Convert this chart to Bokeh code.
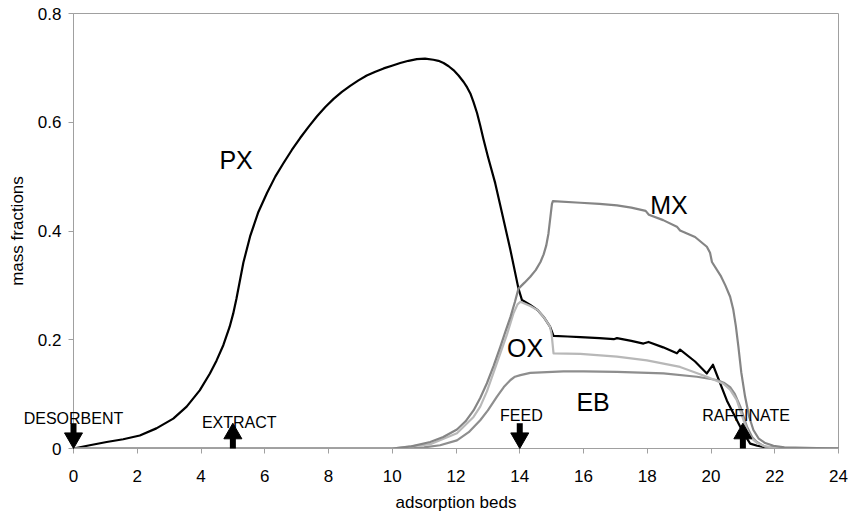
from bokeh.plotting import figure
from bokeh.models import Range1d, FixedTicker, NumeralTickFormatter
from bokeh.core.properties import value
from bokeh.embed import file_html
from bokeh.resources import INLINE

# ---------------- data ----------------
px_x = [0, 0.51, 1.04, 1.56, 2.08, 2.6, 3.13, 3.55, 3.96, 4.28, 4.49, 4.7, 4.9, 5.01, 5.11, 5.33,
        5.54, 5.8, 6.07, 6.33, 6.59, 6.85, 7.11, 7.38, 7.64, 7.9, 8.16, 8.42, 8.68, 8.94, 9.2,
        9.47, 9.73, 9.99, 10.25, 10.51, 10.77, 11.03, 11.29, 11.45, 11.61, 11.77, 11.92, 12.08,
        12.24, 12.35, 12.45, 12.55, 12.66, 12.76, 12.86, 13.0, 13.23, 13.39, 13.7, 13.96, 14.07,
        14.33, 14.55, 14.75, 14.95, 15.06, 15.5, 15.9, 16.5, 16.95, 17.05, 17.5, 17.88, 18.04,
        18.5, 18.93, 19.03, 19.5, 19.87, 20.06, 20.5, 21.02, 21.23, 21.45, 21.65, 22.0, 24.0]
px_y = [0, 0.006, 0.012, 0.017, 0.024, 0.037, 0.055, 0.077, 0.107, 0.138, 0.162, 0.19, 0.224,
        0.248, 0.275, 0.342, 0.39, 0.435, 0.47, 0.5, 0.525, 0.549, 0.571, 0.592, 0.611, 0.628,
        0.643, 0.656, 0.667, 0.677, 0.686, 0.693, 0.699, 0.704, 0.709, 0.713, 0.716, 0.717,
        0.715, 0.713, 0.709, 0.703, 0.696, 0.686, 0.674, 0.664, 0.653, 0.637, 0.617, 0.594,
        0.569, 0.537, 0.488, 0.447, 0.367, 0.294, 0.273, 0.264, 0.255, 0.242, 0.224, 0.207,
        0.206, 0.205, 0.203, 0.201, 0.203, 0.198, 0.193, 0.196, 0.186, 0.175, 0.182, 0.16,
        0.138, 0.154, 0.088, 0.028, 0.009, 0.005, 0.003, 0.001, 0]

mx_x = [0, 10.0, 10.6, 11.19, 11.6, 12.03, 12.3, 12.55, 12.76, 12.97, 13.18, 13.39, 13.55, 13.71,
        13.85, 13.96, 14.15, 14.33, 14.5, 14.65, 14.75, 14.83, 14.9, 14.96, 15.01, 15.04, 15.9,
        16.5, 17.05, 17.5, 17.95, 18.05, 18.5, 18.93, 19.03, 19.5, 19.87, 19.97, 20.03, 20.3,
        20.45, 20.6, 20.7, 20.78, 20.86, 20.95, 21.07, 21.2, 21.33, 21.5, 21.7, 21.96, 22.3, 24.0]
mx_y = [0, 0, 0.004, 0.012, 0.021, 0.035, 0.05, 0.07, 0.093, 0.12, 0.152, 0.187, 0.215, 0.242,
        0.27, 0.294, 0.305, 0.316, 0.328, 0.343, 0.357, 0.373, 0.395, 0.425, 0.45, 0.455, 0.452,
        0.45, 0.447, 0.443, 0.437, 0.43, 0.42, 0.408, 0.401, 0.389, 0.371, 0.36, 0.343, 0.318,
        0.3, 0.279, 0.255, 0.225, 0.187, 0.14, 0.095, 0.058, 0.034, 0.018, 0.01, 0.005, 0.002, 0]

ox_x = [0, 10.0, 11.19, 12.03, 12.55, 12.76, 12.97, 13.18, 13.39, 13.6, 13.8, 13.93, 14.02, 14.33,
        14.55, 14.75, 14.95, 15.0, 15.06, 15.9, 17.05, 17.99, 19.03, 19.87, 20.39, 20.6, 20.81,
        21.02, 21.23, 21.45, 21.65, 22.0, 24.0]
ox_y = [0, 0, 0.008, 0.028, 0.058, 0.077, 0.105, 0.14, 0.175, 0.21, 0.248, 0.265, 0.27, 0.262,
        0.255, 0.242, 0.224, 0.21, 0.175, 0.174, 0.169, 0.162, 0.15, 0.132, 0.119, 0.108, 0.089,
        0.052, 0.021, 0.01, 0.005, 0.001, 0]

eb_x = [0, 10.5, 11.0, 11.5, 12.03, 12.4, 12.76, 13.0, 13.28, 13.5, 13.71, 13.85, 14.02, 14.33,
        15.37, 16.0, 17.05, 18.51, 19.56, 20.18, 20.4, 20.6, 20.75, 20.92, 21.13, 21.3, 21.44,
        21.7, 22.0, 24.0]
eb_y = [0, 0, 0.002, 0.006, 0.015, 0.03, 0.052, 0.07, 0.095, 0.113, 0.126, 0.132, 0.135, 0.139,
        0.142, 0.142, 0.141, 0.138, 0.132, 0.126, 0.121, 0.113, 0.1, 0.077, 0.04, 0.02, 0.012,
        0.003, 0.001, 0]

series_names = ["PX", "MX", "OX", "EB"]

ports = ["DESORBENT", "EXTRACT", "FEED", "RAFFINATE"]
port_beds = [0, 5, 14, 21]
port_dir = ["in", "out", "in", "out"]   # in = arrow pointing down, out = arrow pointing up

x_ticks = list(range(0, 25, 2))
y_ticks = [0, 0.2, 0.4, 0.6, 0.8]

# ---------------- style / layout ----------------
FONT = "Liberation Sans"
AXIS_GRAY = "#a0a0a0"
W, H = 851, 518
BL, BR, BT, BB = 73, 13, 13, 70
X0, X1, Y0, Y1 = 0, 24, 0, 0.8
ypx = (H - BT - BB) / (Y1 - Y0)     # pixels per data unit (y)

p = figure(width=W, height=H, x_range=Range1d(X0, X1), y_range=Range1d(Y0, Y1),
           output_backend="svg", toolbar_location=None,
           min_border_left=BL, min_border_right=BR, min_border_top=BT, min_border_bottom=BB)
p.xgrid.visible = False
p.ygrid.visible = False
p.outline_line_color = AXIS_GRAY
p.background_fill_color = "white"
p.border_fill_color = "white"

p.xaxis.ticker = FixedTicker(ticks=x_ticks)
p.yaxis.ticker = FixedTicker(ticks=y_ticks)
p.yaxis.formatter = NumeralTickFormatter(format="0.[0]")
for ax in (p.xaxis[0], p.yaxis[0]):
    ax.axis_line_color = AXIS_GRAY
    ax.major_tick_line_color = AXIS_GRAY
    ax.major_tick_out = 5
    ax.major_tick_in = 0
    ax.minor_tick_out = 0
    ax.minor_tick_in = 0
    ax.major_label_text_font = FONT
    ax.major_label_text_font_size = "17px"
    ax.major_label_text_color = "black"
    ax.axis_label_text_font = FONT
    ax.axis_label_text_font_size = "17px"
    ax.axis_label_text_font_style = "normal"
    ax.axis_label_text_color = "black"
p.xaxis.axis_label = "adsorption beds"
p.yaxis.axis_label = "mass fractions"
p.xaxis.major_label_standoff = 16
p.yaxis.major_label_standoff = 7
p.xaxis.axis_label_standoff = 8
p.yaxis.axis_label_standoff = 8

# ---------------- curves ----------------
p.line(px_x, px_y, line_color="black", line_width=2.2, line_join="round")
p.line(eb_x, eb_y, line_color="#8e8e8e", line_width=2.2, line_join="round")
p.line(ox_x, ox_y, line_color="#b8b8b8", line_width=2.2, line_join="round")
p.line(mx_x, mx_y, line_color="#858585", line_width=2.2, line_join="round")

# curve labels
lab_x = [5.1, 18.68, 14.17, 16.3]
lab_y = [0.531, 0.447, 0.184, 0.086]
p.text(x=lab_x, y=lab_y, text=series_names, text_align="center", text_baseline="alphabetic",
       text_font=value(FONT), text_font_size="25px", text_color="black")

# ---------------- port arrows (glyphs on overlay level so they are not clipped) ----------------
HEAD = 18                       # triangle marker size (px)
head_h = HEAD * 3 ** 0.5 / 2    # triangle height (px)
arrow_len = 0.0465              # arrow length in data units (tip/tail at this height)
d_tip = (2 * head_h / 3) / ypx  # centroid offset from tip
d_base = head_h / ypx           # head length in data units

down_b = [b for b, d in zip(port_beds, port_dir) if d == "in"]
up_b = [b for b, d in zip(port_beds, port_dir) if d == "out"]

p.segment(x0=down_b, y0=[arrow_len] * len(down_b), x1=down_b, y1=[d_base * 0.8] * len(down_b),
          line_color="black", line_width=6, level="overlay")
p.scatter(x=down_b, y=[d_tip] * len(down_b), marker="inverted_triangle", size=HEAD,
          fill_color="black", line_color="black", level="overlay")
p.segment(x0=up_b, y0=[0] * len(up_b), x1=up_b, y1=[arrow_len - d_base * 0.8] * len(up_b),
          line_color="black", line_width=6, level="overlay")
p.scatter(x=up_b, y=[arrow_len - d_tip] * len(up_b), marker="triangle", size=HEAD,
          fill_color="black", line_color="black", level="overlay")

# port labels
port_lab_x = [0, 5.2, 14.05, 21.1]
port_lab_y = [0.056, 0.047, 0.06, 0.06]
p.text(x=port_lab_x, y=port_lab_y, text=ports, text_align="center", text_baseline="alphabetic",
       text_font=value(FONT), text_font_size="16px", text_color="black", level="overlay")

open("out.html", "w").write(file_html(p, INLINE))
